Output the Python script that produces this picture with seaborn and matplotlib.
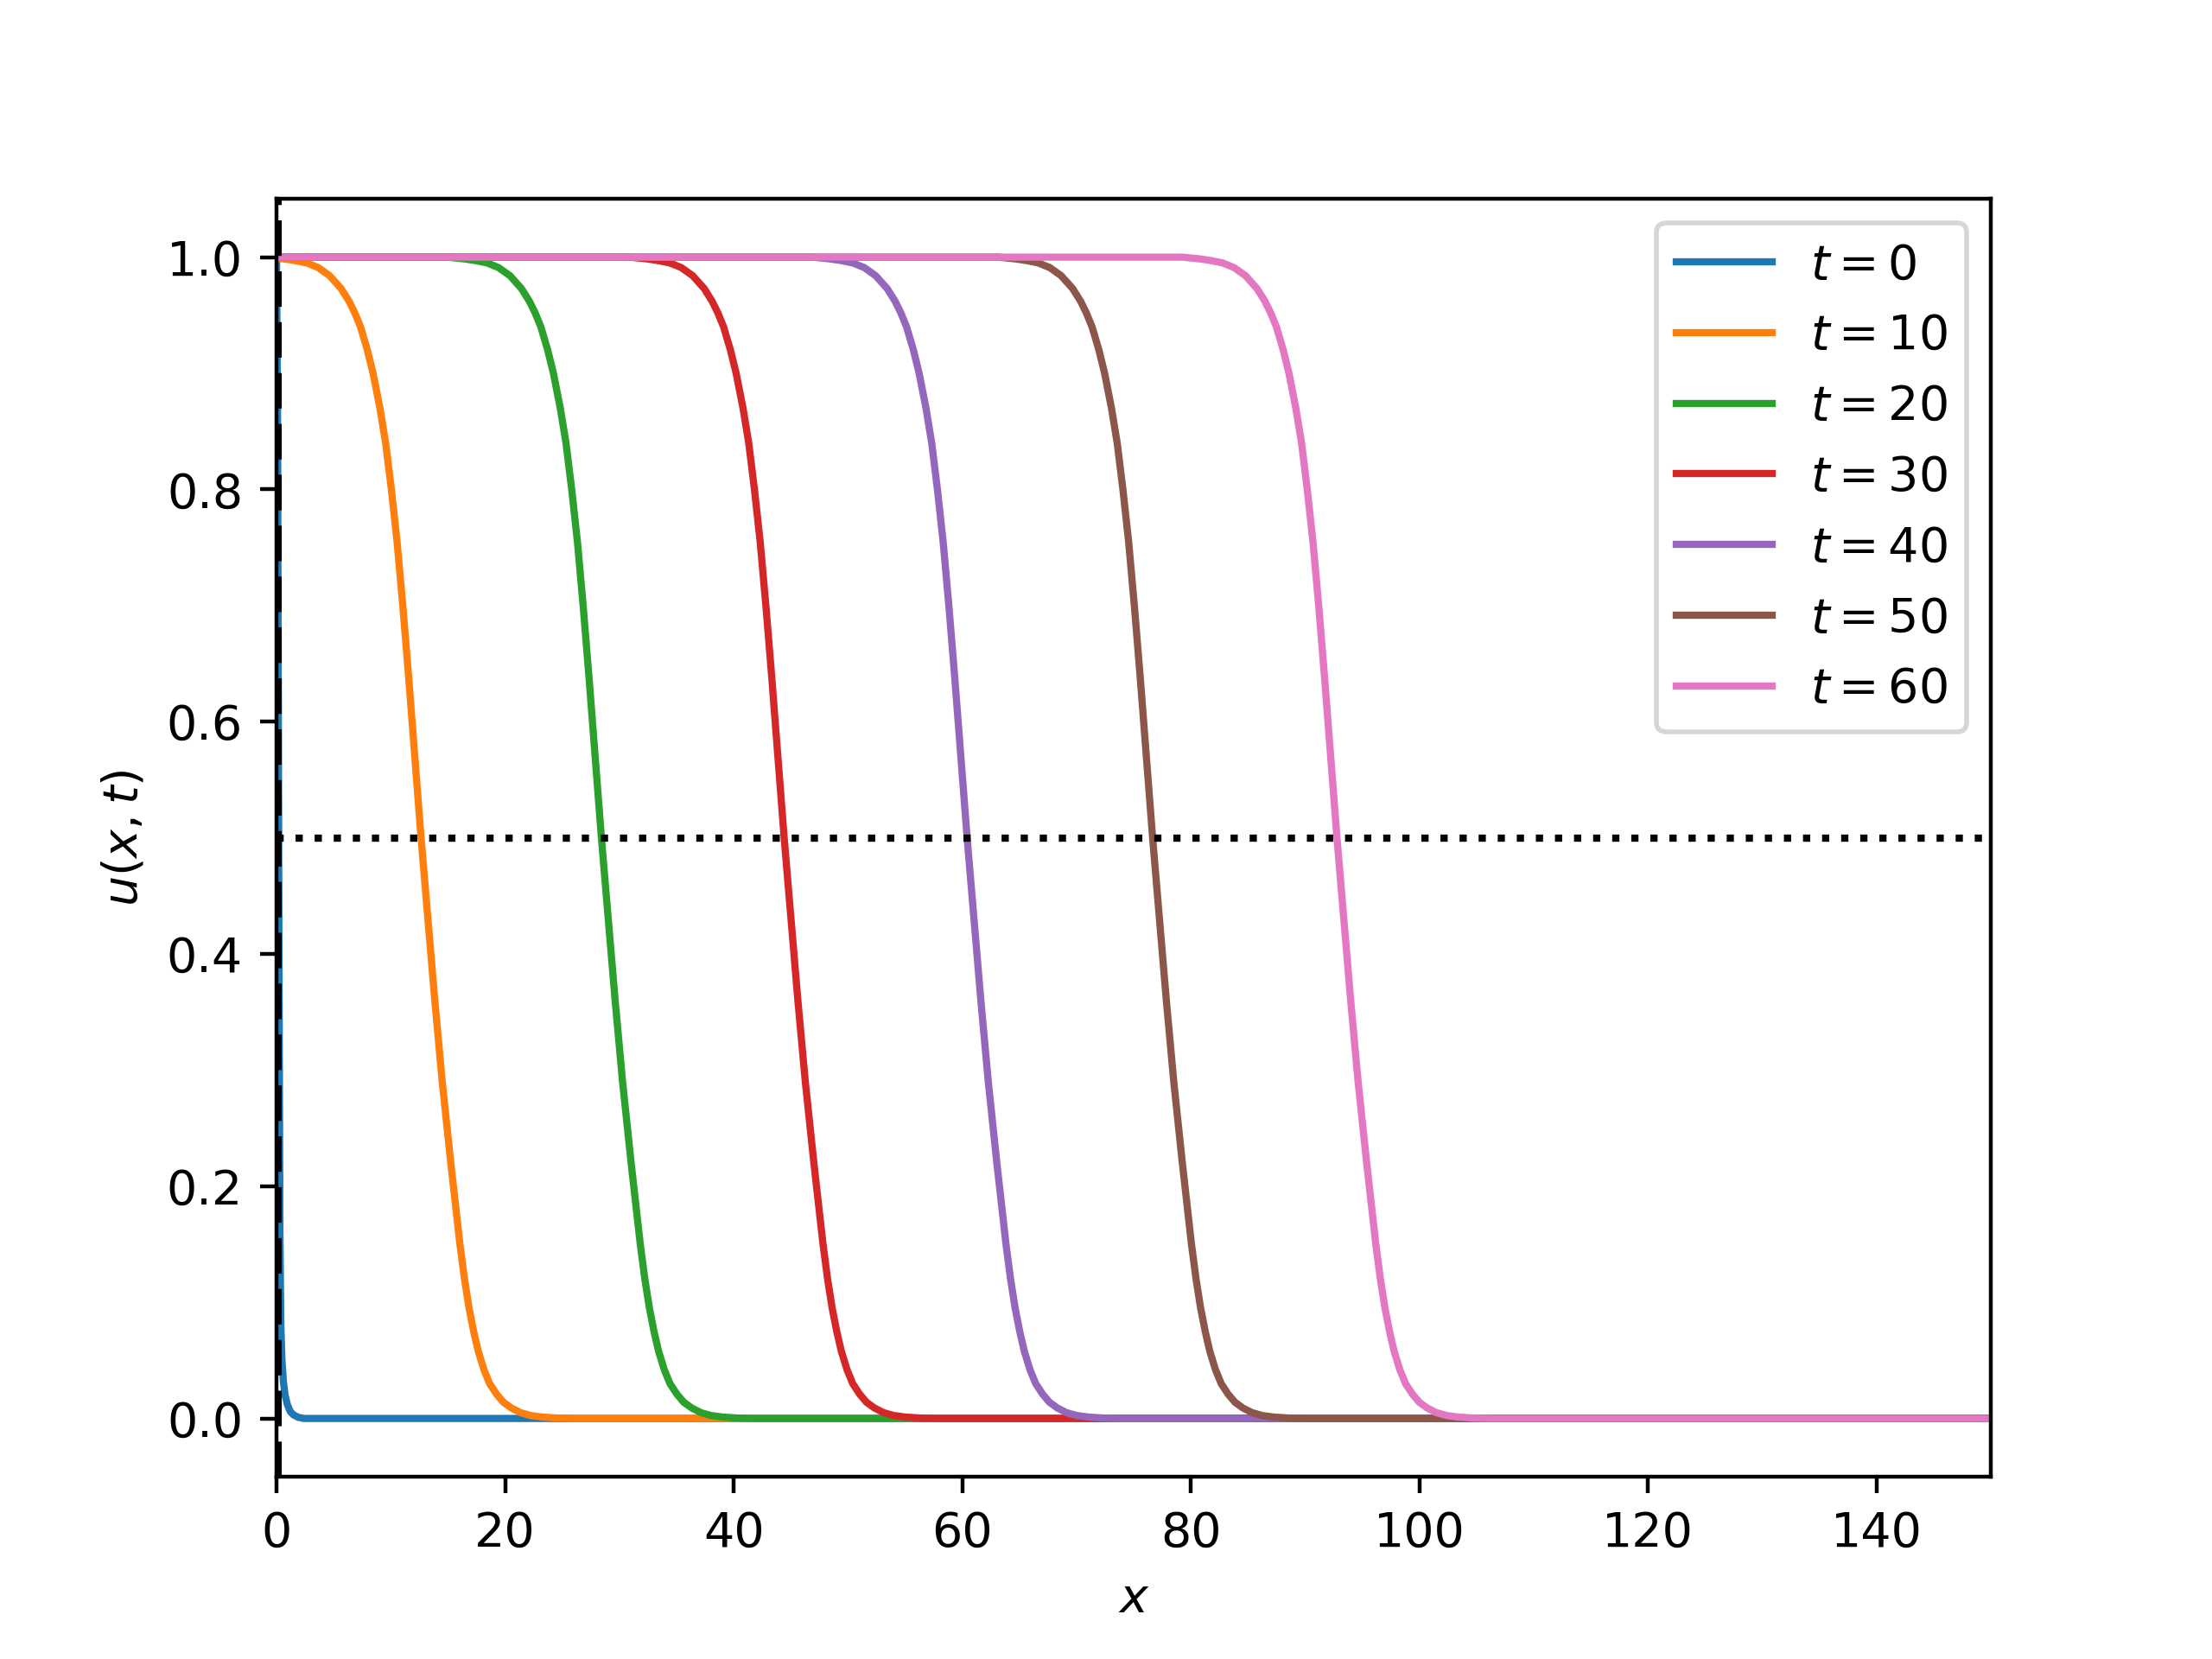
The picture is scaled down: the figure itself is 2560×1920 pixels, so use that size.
import numpy as np
import pandas as pd
import seaborn as sb
import matplotlib
matplotlib.use('Agg')
import matplotlib.pyplot as plt

# моменты времени
times = [0, 10, 20, 30, 40, 50, 60]

# t = 0: начальная ступенька у x = 0
x_t0 = [0.0, 0.1, 0.2, 0.3, 0.38, 0.48, 0.6, 0.75, 0.95, 1.2, 1.5, 1.9, 2.4, 150.0]
u_t0 = [1.0, 0.85, 0.45, 0.16, 0.08, 0.05, 0.032, 0.02, 0.012, 0.006, 0.003, 0.001, 0.0, 0.0]

# форма фронта (одинаковая для t >= 10): смещение от точки u = 0.5 и значение u
front_dx = [-13.5, -12.0, -11.0, -10.0, -9.0, -8.0, -7.0, -6.3, -5.8, -5.3, -4.7, -4.2,
            -3.6, -3.1, -2.6, -2.1, -1.6, -1.1, -0.55, 0.0, 0.6, 1.2, 1.85, 2.6, 3.0,
            3.4, 3.8, 4.2, 4.6, 5.0, 5.5, 6.0, 6.6, 7.2, 7.9, 8.7, 9.6, 10.6, 12.0, 13.5]
front_u = [1.0, 0.9985, 0.997, 0.995, 0.991, 0.984, 0.973, 0.962, 0.952, 0.94, 0.92, 0.90,
           0.87, 0.84, 0.80, 0.755, 0.70, 0.64, 0.57, 0.50, 0.43, 0.36, 0.29, 0.22, 0.185,
           0.15, 0.12, 0.095, 0.075, 0.058, 0.042, 0.030, 0.021, 0.014, 0.009, 0.005, 0.0025,
           0.0012, 0.0003, 0.0]

# положение точки u = 0.5 (пересечение с пунктиром) для t = 10..60
front_mid = [12.65, 28.43, 44.42, 60.43, 76.66, 92.79]

x_max = 150.0

colors = plt.rcParams['axes.prop_cycle'].by_key()['color']

# собираем таблицу для seaborn
rows = [pd.DataFrame({'x': x_t0, 'u': u_t0, 't': times[0]})]
for t, m in zip(times[1:], front_mid):
    xs = [m + d for d in front_dx]
    pts = [(x, u) for x, u in zip(xs, front_u) if x > 0]
    u_left = 1.0 if m + front_dx[0] > 0 else 0.999
    pts = [(0.0, u_left)] + pts + [(x_max, 0.0)]
    rows.append(pd.DataFrame({'x': [p[0] for p in pts], 'u': [p[1] for p in pts], 't': t}))
df = pd.concat(rows, ignore_index=True)

fig, ax = plt.subplots(figsize=(6.4, 4.8), dpi=400)

for i, t in enumerate(times):
    sb.lineplot(x='x', y='u', data=df[df['t'] == t], ax=ax, color=colors[i], lw=1.5,
                estimator=None, sort=False, label=f'$t = {t}$')

ax.axvline(0, color='k', ls='--', lw=2)
ax.axhline(0.5, color='k', ls=':', lw=1.5)

ax.set_xlim(0, x_max)
ax.set_ylim(-0.05, 1.05)
ax.set_xlabel('$x$')
ax.set_ylabel('$u(x, t)$')
ax.legend(loc='upper right')

fig.savefig('out.png', dpi=400)
